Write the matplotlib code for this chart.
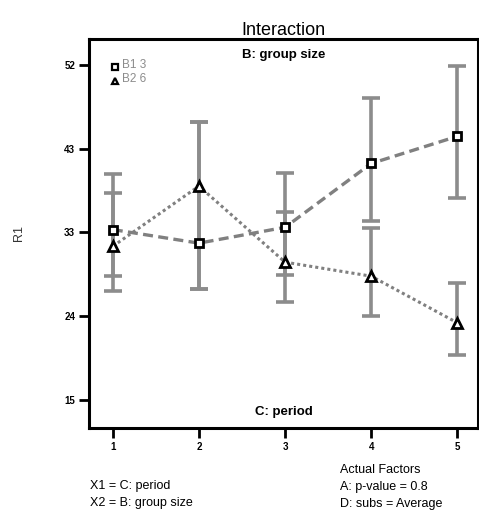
import matplotlib.pyplot as plt

plt.rcParams['font.family'] = ['Liberation Sans', 'DejaVu Sans']

# period levels (C) and predicted R1 for each group size (B)
periods = [1, 2, 3, 4, 5]
b1_mean = [33.8, 32.3, 34.05, 41.1, 44.1]
b2_mean = [31.95, 38.6, 30.2, 28.65, 23.5]

# LSD bar ends
b1_low = [28.65, 27.2, 28.75, 34.8, 37.25]
b1_high = [39.9, 45.7, 40.1, 48.35, 51.9]
b2_low = [27.0, 27.2, 25.8, 24.25, 19.95]
b2_high = [37.8, 45.7, 35.7, 33.95, 27.9]

ytick_vals = [15, 24.25, 33.5, 42.75, 52]
ytick_labels = ['15', '24', '33', '43', '52']

fig = plt.figure(figsize=(4.79, 5.13), dpi=100)
ax = fig.add_axes([0.186, 0.166, 0.812, 0.758])

bar_kw = dict(fmt='none', ecolor='#8c8c8c', elinewidth=2.6, capsize=6.5, capthick=2.6, zorder=1)
ax.errorbar(periods, b1_mean,
            yerr=[[m - lo for m, lo in zip(b1_mean, b1_low)], [hi - m for m, hi in zip(b1_mean, b1_high)]],
            **bar_kw)
ax.errorbar(periods, b2_mean,
            yerr=[[m - lo for m, lo in zip(b2_mean, b2_low)], [hi - m for m, hi in zip(b2_mean, b2_high)]],
            **bar_kw)

ax.plot(periods, b1_mean, color='#808080', lw=2.4, ls=(0, (3, 1.6)), zorder=2)
ax.plot(periods, b2_mean, color='#808080', lw=2.2, ls=(0, (1, 1)), zorder=2)
ax.plot(periods, b1_mean, ls='none', marker='s', ms=5.5, mfc='white', mec='black', mew=2, zorder=3)
ax.plot(periods, b2_mean, ls='none', marker='^', ms=6.5, mfc='white', mec='black', mew=2, zorder=3)

ax.set_xlim(0.725, 5.24)
ax.set_ylim(11.9, 54.85)
ax.set_xticks(periods)
ax.set_xticklabels([str(p) for p in periods], fontsize=7, fontweight='bold')
ax.set_yticks(ytick_vals)
ax.set_yticklabels(ytick_labels, fontsize=7, fontweight='bold')
ax.tick_params(direction='out', length=7, width=2, pad=3)
for s in ax.spines.values():
    s.set_linewidth(2.2)

# legend in the upper left
ax.plot([1.02], [51.8], ls='none', marker='s', ms=4.5, mfc='white', mec='black', mew=1.6)
ax.plot([1.02], [50.2], ls='none', marker='^', ms=5, mfc='white', mec='black', mew=1.6)
ax.text(1.11, 51.95, 'B1 3', fontsize=8.5, color='#8c8c8c', va='center')
ax.text(1.11, 50.4, 'B2 6', fontsize=8.5, color='#8c8c8c', va='center')

ax.text(0.5, 0.975, 'B: group size', transform=ax.transAxes, ha='center', va='top',
        fontsize=9.5, fontweight='bold')
ax.text(0.5, 0.025, 'C: period', transform=ax.transAxes, ha='center', va='bottom',
        fontsize=9.5, fontweight='bold')
ax.set_title('Interaction', fontsize=13, pad=2)
ax.set_ylabel('R1', fontsize=9, color='#333333', labelpad=28)

fig.text(0.188, 0.052, 'X1 = C: period', fontsize=9, va='center')
fig.text(0.188, 0.019, 'X2 = B: group size', fontsize=9, va='center')
fig.text(0.71, 0.083, 'Actual Factors', fontsize=9, va='center')
fig.text(0.71, 0.051, 'A: p-value = 0.8', fontsize=9, va='center')
fig.text(0.71, 0.018, 'D: subs = Average', fontsize=9, va='center')

fig.savefig('out.png', dpi=100)
